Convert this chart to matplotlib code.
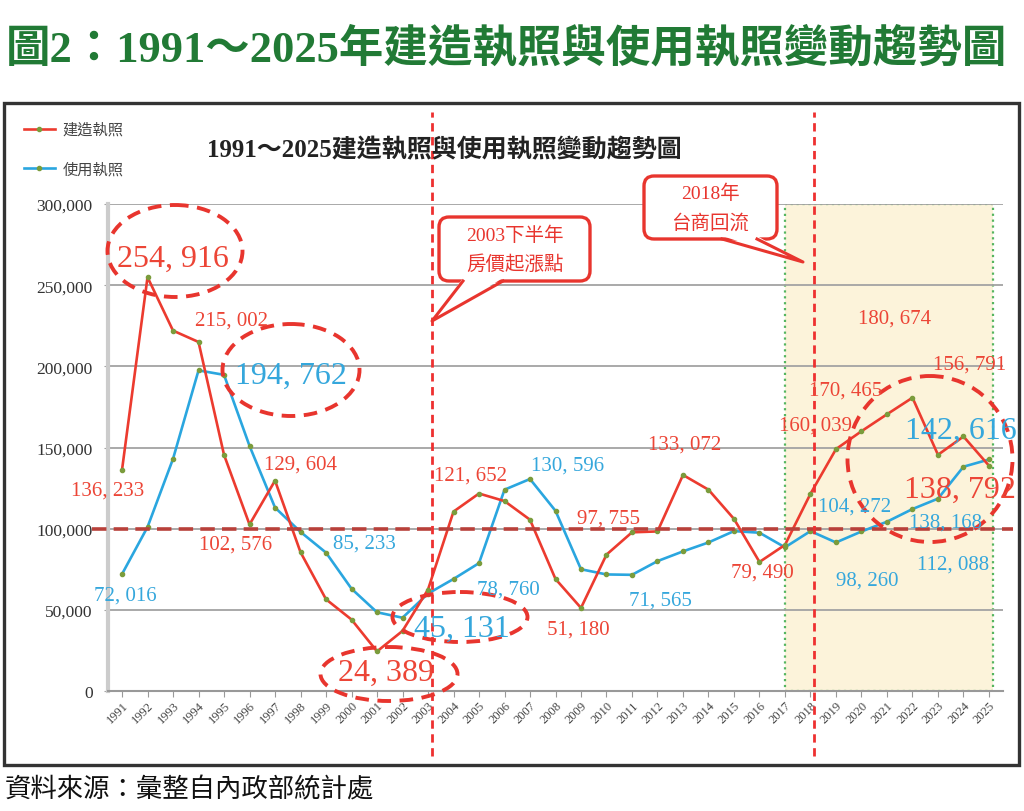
import matplotlib
matplotlib.use("Agg")
import matplotlib.pyplot as plt
from matplotlib.patches import Ellipse, Rectangle, FancyBboxPatch, Polygon
from matplotlib.lines import Line2D
from matplotlib.transforms import Affine2D
from matplotlib.ticker import FuncFormatter

# data
years = list(range(1991, 2026))
build_permits = [136233, 254916, 222000, 215002, 145500, 102576, 129604, 85500, 56500, 44000,
                 24389, 37000, 62500, 110500, 121652, 117000, 105500, 69000, 51180, 84000,
                 97755, 98300, 133072, 124000, 106000, 79490, 90000, 121500, 149000, 160039,
                 170465, 180674, 145500, 156791, 138792]
use_permits = [72016, 101000, 143000, 197500, 194762, 151000, 113000, 98000, 85233, 63000,
               48500, 45131, 60000, 69000, 78760, 124000, 130596, 111000, 75000, 71800,
               71565, 80000, 86000, 91500, 98500, 97500, 88500, 98500, 91500, 98260,
               104272, 112088, 118500, 138168, 142616]
y_ticks = [0, 50000, 100000, 150000, 200000, 250000, 300000]
event_years = [2003, 2018]
highlight_span = (2017, 2025)
reference_level = 100000

title_text = "圖2：1991～2025年建造執照與使用執照變動趨勢圖"
inner_title = "1991～2025建造執照與使用執照變動趨勢圖"
legend_labels = ["建造執照", "使用執照"]
note_2003 = ["2003下半年", "房價起漲點"]
note_2018 = ["2018年", "台商回流"]
source_text = "資料來源：彙整自內政部統計處"

# which points get a value label: (year, dx px, dy px, big)
build_labels = [(1991, -14, -20, False), (1992, 25, 19, True), (1994, 33, 22, False),
                (1996, -14, -20, False), (1997, 25, 17, False), (2001, 9, -21, True),
                (2005, -9, 18, False), (2009, -3, -21, False), (2011, -23, 14, False),
                (2013, 2, 31, False), (2016, 3, -10, False), (2020, -46, 6, False),
                (2021, -41, 24, False), (2022, -18, 80, False), (2024, 6, 72, False),
                (2025, -29, -24, True)]
use_labels = [(1991, 3, -21, False), (1995, 67, 0, True), (1999, 38, 10, False),
              (2002, 59, -11, True), (2005, 29, -26, False), (2007, 38, 14, False),
              (2011, 28, -25, False), (2020, 6, -49, False), (2021, -32, 16, False),
              (2022, 41, -55, False), (2024, -18, -55, False), (2025, -28, 29, True)]

SERIF = ["Liberation Serif", "Noto Sans CJK TC"]
CJK = ["Noto Sans CJK TC", "DejaVu Sans"]
RED = "#ec3b2f"
BLUE = "#2aa6df"
LBL_RED = "#ec4536"
LBL_BLUE = "#35a7dc"
MARK = "#7b9c3c"

fig = plt.figure(figsize=(10.24, 8.12), dpi=100)
# reference pixel coords (origin top-left) -> figure
pix = Affine2D().scale(1 / 1024, -1 / 812).translate(0, 1) + fig.transFigure

ax = fig.add_axes([108 / 1024, 1 - 692 / 812, 895 / 1024, 487 / 812])
ax.set_xlim(1990.45, 2025.55)
ax.set_ylim(0, 300000)

# shaded 2017-2025 block
ax.add_patch(Rectangle((highlight_span[0], 0), highlight_span[1] + 0.16 - highlight_span[0], 300000,
                       facecolor="#fcf3da", edgecolor="#55b560", linestyle=":", linewidth=1.6,
                       zorder=0.2))

ax.set_axisbelow(True)
ax.grid(axis="y", color="#a3a3a3", linewidth=1.3)
ax.set_yticks(y_ticks)
ax.yaxis.set_major_formatter(FuncFormatter(lambda v, p: f"{int(v):,}"))
ax.set_xticks(years)
ax.set_xticklabels([str(y) for y in years])
for sp in ["top", "right"]:
    ax.spines[sp].set_visible(False)
ax.spines["left"].set_color("#cccccc")
ax.spines["left"].set_linewidth(3)
ax.spines["bottom"].set_color("#999999")
ax.spines["bottom"].set_linewidth(1.5)
ax.tick_params(axis="y", length=3, color="#a3a3a3", pad=8, labelsize=12.5, labelcolor="#333333")
ax.tick_params(axis="x", length=4, color="#999999", pad=2, labelsize=9, labelcolor="#444444")
for t in ax.get_yticklabels() + ax.get_xticklabels():
    t.set_family(SERIF)
for t in ax.get_xticklabels():
    t.set_rotation(45)
    t.set_ha("right")
    t.set_va("top")
    t.set_rotation_mode("anchor")

l1, = ax.plot(years, build_permits, color=RED, linewidth=1.9, marker="o", markersize=3,
              markerfacecolor=MARK, markeredgecolor=MARK, zorder=2.5)
l2, = ax.plot(years, use_permits, color=BLUE, linewidth=1.9, marker="o", markersize=3,
              markerfacecolor=MARK, markeredgecolor=MARK, zorder=2.4)

# reference lines
ax.axhline(reference_level, xmin=-0.018, xmax=1.011, color="#b8403a", linewidth=2.6,
           dashes=(4, 2), clip_on=False, zorder=3)
for ey in event_years:
    ax.axvline(ey + 0.15, ymin=-0.134, ymax=1.189, color="#ee3030", linewidth=2,
               dashes=(3, 2), clip_on=False, zorder=3)

# value labels
def put_labels(values, specs, color):
    for yr, dx, dy, big in specs:
        v = values[years.index(yr)]
        ax.annotate(f"{v:,}".replace(",", ", "), (yr, v), xytext=(dx, dy),
                    textcoords="offset pixels", ha="center", va="center",
                    color=color, family=SERIF, fontsize=23 if big else 15,
                    zorder=6, annotation_clip=False)

put_labels(build_permits, build_labels, LBL_RED)
put_labels(use_permits, use_labels, LBL_BLUE)

# dashed circles around key numbers (pixel layout)
for cx, cy, w, h in [(175, 252, 135, 92), (291, 371, 137, 92), (389, 675, 137, 54),
                     (460, 618, 135, 50), (930, 460, 165, 166)]:
    ax.add_patch(Ellipse((cx, cy), w, h, transform=pix, fill=False, edgecolor="#e8352e",
                         linewidth=2.8, linestyle=(0, (3.5, 2.2)), clip_on=False, zorder=5))

# callout bubbles
def callout(x0, y0, x1, y1, tail, lines):
    box = FancyBboxPatch((x0, y0), x1 - x0, y1 - y0, boxstyle="round,pad=0,rounding_size=10",
                         transform=pix, facecolor="white", edgecolor="#e8352e", linewidth=2.4,
                         zorder=7)
    fig.add_artist(box)
    a, tip, b = tail
    fig.add_artist(Polygon([(a[0], a[1] - 3), tip, (b[0], b[1] - 3)], closed=True, transform=pix,
                           facecolor="white", edgecolor="none", zorder=7.1))
    fig.add_artist(Line2D([a[0], tip[0], b[0]], [a[1], tip[1], b[1]], transform=pix,
                          color="#e8352e", linewidth=2.2, zorder=7.2))
    cx = (x0 + x1) / 2
    n = len(lines)
    for i, s in enumerate(lines):
        yy = (y0 + y1) / 2 + (i - (n - 1) / 2) * 29
        fig.text(cx, yy, s, transform=pix, ha="center", va="center", color="#e8352e",
                 fontsize=14, family=SERIF, zorder=8)

callout(439, 218, 590, 282, [(463, 282), (432, 322), (503, 282)], note_2003)
callout(644, 177, 777, 240, [(722, 240), (803, 263), (757, 240)], note_2018)

# legend
fig.legend([l1, l2], legend_labels, loc="upper left", bbox_to_anchor=(24, 122),
           bbox_transform=pix, frameon=False, prop=dict(family=CJK, size=11),
           handlelength=2.0, handletextpad=0.5, labelspacing=1.45, borderpad=0,
           borderaxespad=0, numpoints=1, labelcolor="#444444")

# titles, frame and source
fig.text(444, 150, inner_title, transform=pix, ha="center", va="center", fontsize=18,
         fontweight="bold", family=SERIF, color="#222222")
fig.add_artist(Rectangle((4, 104), 1015, 662, transform=pix, fill=False, edgecolor="#333333",
                         linewidth=2.4))
fig.text(6, 50, title_text, transform=pix, ha="left", va="center", fontsize=32,
         fontweight="bold", family=SERIF, color="#217a35")
fig.text(5, 790, source_text, transform=pix, ha="left", va="center", fontsize=19,
         family=CJK, color="#111111")

fig.savefig("out.png", dpi=100)
